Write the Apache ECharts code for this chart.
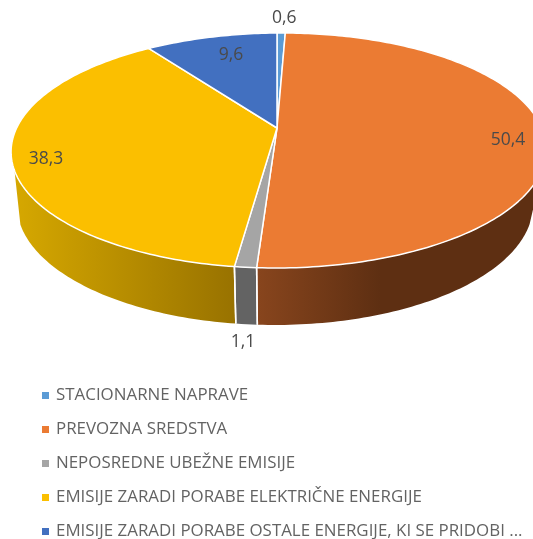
<!DOCTYPE html>
<html><head><meta charset="utf-8">
<style>html,body{margin:0;padding:0;background:#fff;overflow:hidden}#c{width:533px;height:539px}</style>
<script src="https://cdn.jsdelivr.net/npm/echarts@6/dist/echarts.min.js"></script>
</head><body><div id="c"></div>
<script>
const categories = ['STACIONARNE NAPRAVE','PREVOZNA SREDSTVA','NEPOSREDNE UBEŽNE EMISIJE','EMISIJE ZARADI PORABE ELEKTRIČNE ENERGIJE','EMISIJE ZARADI PORABE OSTALE ENERGIJE, KI SE PRIDOBI ...'];
const values = [0.6, 50.4, 1.1, 38.3, 9.6];
const valueLabels = ['0,6','50,4','1,1','38,3','9,6'];
const colors = ['#5b9bd5','#eb7b33','#a5a5a5','#fbbf00','#4270c0'];
const wallColors = [
  ['#3a6a96','#3a6a96'],
  ['#88451d','#5e2f12'],
  ['#636363','#636363'],
  ['#d6a800','#987200'],
  ['#2c4a80','#2c4a80']
];
const wallSpan = [[0,533],[257,380],[236,257],[14,236],[0,533]];
const labelOffsets = [[3,-15],[-35.5,8],[-2.5,75],[34.6,2],[19.8,17.8]];

// Perspective projection of the upper and lower pie discs
const topDisc = {ax:277, ay:128, A:262.6, B:113.2, k:0.1915, m:0.006, C:-1.5};
const lowDisc = {ax:277, ay:182, A:253.2, B:115.6, k:0.1915, m:-0.0077, C:0};
const visibleWall = [110, 250]; // clockwise angles between the silhouette edges of the side wall
const total = values.reduce((a,b)=>a+b,0);
function project(deg, d){
  const t = deg*Math.PI/180, u = Math.sin(t), v = -Math.cos(t), w = 1 - d.k*v - d.m*u;
  return [d.ax + d.A*u/w, d.ay + (d.B*v + d.C*u)/w];
}
function angles(a0,a1){
  const n = Math.max(2, Math.ceil(a1-a0)), out=[];
  for(let i=0;i<=n;i++) out.push(a0+(a1-a0)*i/n);
  return out;
}
function angleRange(i){
  let s=0; for(let j=0;j<i;j++) s+=values[j];
  return [s/total*360,(s+values[i])/total*360];
}
function makeRender(i){
  return function(params, api){
    const [a0,a1] = angleRange(i);
    const top = angles(a0,a1).map(a=>project(a,topDisc));
    const e = project((a0+a1)/2,topDisc);
    const children=[];
    const w0 = Math.max(a0,visibleWall[0]), w1 = Math.min(a1,visibleWall[1]);
    if(w1>w0){
      const steps = angles(w0,w1);
      const wt = steps.map(a=>project(a,topDisc)), wl = steps.map(a=>project(a,lowDisc));
      const wallFill = new echarts.graphic.LinearGradient(wallSpan[i][0],0,wallSpan[i][1],0,
        [{offset:0,color:wallColors[i][0]},{offset:1,color:wallColors[i][1]}],true);
      children.push({type:'polygon',z2:10,
        shape:{points:wt.concat(wl.slice().reverse())},
        style:{fill:wallFill,stroke:null}});
      [[a0,w0],[a1,w1]].forEach(pair=>{
        if(pair[0]===pair[1]){
          const p=project(pair[0],topDisc), q=project(pair[0],lowDisc);
          children.push({type:'line',z2:12,
            shape:{x1:p[0],y1:p[1],x2:q[0],y2:q[1]},style:{stroke:'#fff',lineWidth:1.5}});
        }
      });
    }
    children.push({type:'polygon',z2:20,
      shape:{points:[[topDisc.ax,topDisc.ay]].concat(top)},
      style:{fill:colors[i],stroke:'#fff',lineWidth:1.5,lineJoin:'round'}});
    children.push({type:'text',z2:30,x:e[0]+labelOffsets[i][0],y:e[1]+labelOffsets[i][1],
      style:{text:valueLabels[i],fill:'#4a4a4a',font:'17.5px "Open Sans"',align:'center',verticalAlign:'middle'}});
    return {type:'group',children};
  };
}
const chart = echarts.init(document.getElementById('c'),null,{renderer:'canvas'});
chart.setOption({
  animation:false,
  backgroundColor:'#fff',
  legend:{
    orient:'vertical',left:37,top:382,height:170,itemWidth:7,itemHeight:7,itemGap:17,
    icon:'rect',selectedMode:false,data:categories,
    textStyle:{color:'#636363',fontFamily:'"Open Sans"',fontSize:16.9,padding:[0,0,0,2]}
  },
  series:categories.map((name,i)=>({
    type:'custom',name,coordinateSystem:'none',silent:true,
    itemStyle:{color:colors[i]},
    data:[[values[i]]],
    renderItem:makeRender(i)
  }))
});
</script></body></html>
